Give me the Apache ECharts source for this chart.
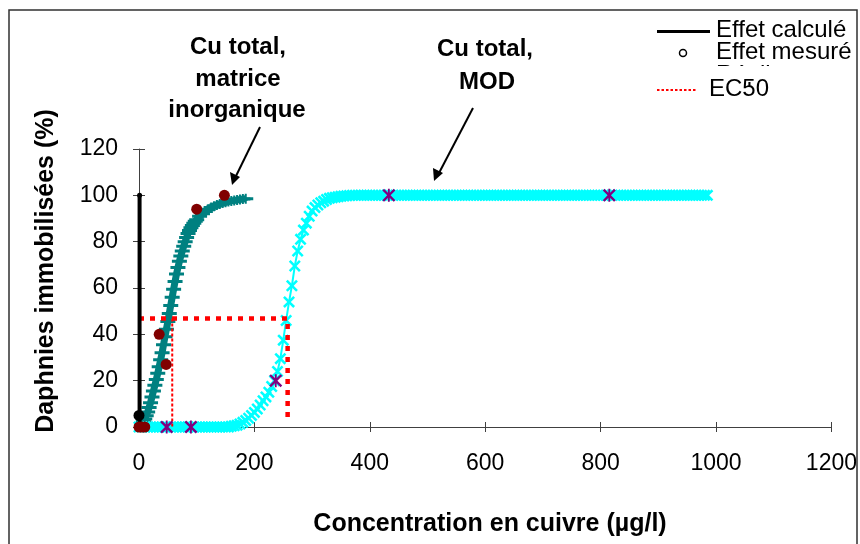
<!DOCTYPE html>
<html><head><meta charset="utf-8">
<script src="https://cdn.jsdelivr.net/npm/echarts@6/dist/echarts.min.js"></script>
<style>html,body{margin:0;padding:0;background:#fff}#c{width:860px;height:544px}</style>
</head><body><div id="c"></div>
<script>
// ---------- data ----------
const xTicks = [0, 200, 400, 600, 800, 1000, 1200];
const yTicks = [0, 20, 40, 60, 80, 100, 120];

// Effet calculé (black vertical line)
const calcX = [1, 1];
const calcY = [0, 100];

// Cu total, matrice inorganique : calculated curve (teal "+")
const tealX = [5,7.5,10,12.5,15,17.5,20,22.5,25,27.5,30,32.5,35,37.5,40,42.5,45,47.5,50,52.5,55,57.5,60,62.5,65,67.5,70,72.5,75,77.5,80,82.5,85,87.5,90,92.5,95,97.5,100,
  105,110,115,120,125,130,135,140,145,150,155,160,165,170,175,180,185];
const tealY = [1.5,2.4,3.5,4.9,6.5,8.4,10.5,13,15.5,18,20.5,23.2,26,29,32,35.5,39,42.2,45.5,49,52.5,56,59.5,62.8,66,68.8,71.5,73.8,76,78,80,81.8,83.5,84.8,86,87,88,88.8,89.5,
  91,92,93,94,94.7,95.3,95.8,96.3,96.7,97,97.3,97.6,97.8,98,98.2,98.4,98.5];

// Cu total, MOD : calculated curve (cyan "x")
const cyanX = [0,5,10,15,20,25,30,35,40,45,50,55,60,65,70,75,80,85,90,95,100,105,110,115,120,125,130,135,140,145,150,155,
  160,165,170,175,180,185,190,195,200,205,210,215,220,225,230,235,240,245,250,255,260,265,270,275,280,285,290,295,300,305,310,315,320,325,330,335,340,345,350,355,360,365,
  370,375,380,385,390,395,400,405,410,415,420,425,430,435,440,445,450,455,460,465,470,475,480,485,490,495,
  500,505,510,515,520,525,530,535,540,545,550,555,560,565,570,575,580,585,590,595,
  600,605,610,615,620,625,630,635,640,645,650,655,660,665,670,675,680,685,690,695,
  700,705,710,715,720,725,730,735,740,745,750,755,760,765,770,775,780,785,790,795,
  800,805,810,815,820,825,830,835,840,845,850,855,860,865,870,875,880,885,890,895,
  900,905,910,915,920,925,930,935,940,945,950,955,960,965,970,975,980,985];
const cyanY = [0,0,0,0,0,0,0,0,0,0,0,0,0,0,0,0,0,0,0,0,0,0,0,0,0,0,0,0,0,0,0,0,
  0.3,0.5,0.8,1.3,2,2.8,3.8,5,6.3,7.8,9.5,11.3,13,15,17.5,20,24,29.5,37.5,46,54,61,69.5,76,81,85,88,91,93.2,94.7,95.8,96.8,97.5,98.2,98.7,99,99.2,99.4,99.6,99.7,99.8,99.9,
  100,100,100,100,100,100,100,100,100,100,100,100,100,100,100,100,100,100,100,100,100,100,100,100,100,100,
  100,100,100,100,100,100,100,100,100,100,100,100,100,100,100,100,100,100,100,100,
  100,100,100,100,100,100,100,100,100,100,100,100,100,100,100,100,100,100,100,100,
  100,100,100,100,100,100,100,100,100,100,100,100,100,100,100,100,100,100,100,100,
  100,100,100,100,100,100,100,100,100,100,100,100,100,100,100,100,100,100,100,100,
  100,100,100,100,100,100,100,100,100,100,100,100,100,100,100,100,100,100];

// Effet mesuré, matrice inorganique (dark red circles)
const measInorgX = [0, 5, 10, 35, 47, 100, 148];
const measInorgY = [0, 0, 0, 40, 27, 94, 100];

// Effet mesuré, black point
const measBlackX = [0];
const measBlackY = [5];

// Réplicats MOD (purple asterisks)
const repX = [48, 90, 237, 433, 815];
const repY = [0, 0, 20, 100, 100];

// EC50
const ec50Level = 46.8;
const ec50Inorg = 57.6;
const ec50Mod = 257.6;
const ec50ModBottom = 2;

// ---------- chart ----------
const zip = (a, b) => a.map((v, i) => [v, b[i]]);
const FONT = "'Liberation Sans', Arial, sans-serif";

const plusPath = 'path://M0,3.5H15V6.5H0Z M6.5,0H8.5V10H6.5Z';
const xPath = 'path://M0,1.5L1.5,0L5,3.5L8.5,0L10,1.5L6.5,5L10,8.5L8.5,10L5,6.5L1.5,10L0,8.5L3.5,5Z';
const astPath = 'path://M0,1.3L1.3,0L5,3.7L8.7,0L10,1.3L6.3,5L10,8.7L8.7,10L5,6.3L1.3,10L0,8.7L3.7,5Z M4.3,0H5.7V10H4.3Z';

const chart = echarts.init(document.getElementById('c'), null, {renderer: 'canvas'});

const axisCommon = {type: 'value', splitLine: {show: false}};
const fmt = v => String(v);

const option = {
  animation: false,
  backgroundColor: '#fff',
  textStyle: {fontFamily: FONT},
  grid: {left: 139, top: 149, right: 27, bottom: 117, containLabel: false},
  xAxis: [
    Object.assign({}, axisCommon, {
      min: xTicks[0], max: xTicks[xTicks.length - 1], interval: xTicks[1] - xTicks[0],
      position: 'bottom',
      axisLine: {show: true, onZero: false, lineStyle: {color: '#404040', width: 1}},
      axisTick: {show: true, length: 5, lineStyle: {color: '#404040', width: 1}},
      axisLabel: {margin: 25, fontSize: 23, color: '#000', fontFamily: FONT, formatter: fmt}
    }),
    Object.assign({}, axisCommon, {
      min: xTicks[0], max: xTicks[xTicks.length - 1], interval: xTicks[1] - xTicks[0],
      position: 'bottom', offset: 0,
      axisLine: {show: false, onZero: false},
      axisTick: {show: true, inside: true, length: 5, lineStyle: {color: '#404040', width: 1}},
      axisLabel: {show: false}
    })
  ],
  yAxis: [
    Object.assign({}, axisCommon, {
      min: yTicks[0], max: yTicks[yTicks.length - 1], interval: yTicks[1] - yTicks[0],
      position: 'left',
      axisLine: {show: true, onZero: false, lineStyle: {color: '#404040', width: 1}},
      axisTick: {show: true, length: 6, lineStyle: {color: '#404040', width: 1}},
      axisLabel: {margin: 21, fontSize: 23, color: '#000', fontFamily: FONT, formatter: fmt}
    }),
    Object.assign({}, axisCommon, {
      min: yTicks[0], max: yTicks[yTicks.length - 1], interval: yTicks[1] - yTicks[0],
      position: 'left', offset: 0,
      axisLine: {show: false, onZero: false},
      axisTick: {show: true, inside: true, length: 6, lineStyle: {color: '#404040', width: 1}},
      axisLabel: {show: false}
    })
  ],
  series: [
    {
      name: 'inorg', type: 'line', data: zip(tealX, tealY), clip: false,
      symbol: plusPath, symbolSize: [15, 10], showAllSymbol: true,
      lineStyle: {color: '#008080', width: 7},
      itemStyle: {color: '#008080'}, z: 2
    },
    {
      name: 'mod', type: 'line', data: zip(cyanX, cyanY), clip: false,
      symbol: xPath, symbolSize: 12, showAllSymbol: true,
      lineStyle: {color: '#00FFFF', width: 2},
      itemStyle: {color: '#00FFFF'}, z: 3
    },
    {
      name: 'ec50a', type: 'line', clip: false, symbol: 'none',
      data: [[0, ec50Level], [ec50Mod, ec50Level], [ec50Mod, ec50ModBottom]],
      lineStyle: {color: '#FF0000', width: 4.5, type: [5, 6]}, z: 4
    },
    {
      name: 'ec50b', type: 'line', clip: false, symbol: 'none',
      data: [[ec50Inorg, ec50Level], [ec50Inorg, 0]],
      lineStyle: {color: '#FF0000', width: 2, type: [3, 2]}, z: 4
    },
    {
      name: 'calc', type: 'line', clip: false, data: zip(calcX, calcY),
      symbol: 'circle', symbolSize: 5,
      lineStyle: {color: '#000', width: 4}, itemStyle: {color: '#000'}, z: 5
    },
    {
      name: 'measBlack', type: 'scatter', clip: false, data: zip(measBlackX, measBlackY),
      symbol: 'circle', symbolSize: 11, itemStyle: {color: '#000', opacity: 1}, z: 6
    },
    {
      name: 'measInorg', type: 'scatter', clip: false, data: zip(measInorgX, measInorgY),
      symbol: 'circle', symbolSize: 11, itemStyle: {color: '#800000', opacity: 1}, z: 7
    },
    {
      name: 'rep', type: 'scatter', clip: false, data: zip(repX, repY),
      symbol: astPath, symbolSize: 13, itemStyle: {color: '#800080', opacity: 1}, z: 8
    }
  ],
  graphic: [
    // outer frame
    {type: 'rect', shape: {x: 9, y: 10, width: 848, height: 560}, style: {fill: 'none', stroke: '#303030', lineWidth: 1.5}, z: 100},
    // axis titles
    {type: 'text', x: 46, y: 271, rotation: Math.PI / 2, style: {x: 0, y: 0, text: 'Daphnies immobilisées (%)', font: "bold 25px 'Liberation Sans', Arial", fill: '#000', textAlign: 'center', textVerticalAlign: 'middle'}},
    {type: 'text', style: {x: 490, y: 524, text: 'Concentration en cuivre (µg/l)', font: "bold 25px 'Liberation Sans', Arial", fill: '#000', textAlign: 'center', textVerticalAlign: 'middle'}},
    // annotations
    {type: 'text', style: {x: 238, y: 47, text: 'Cu total,', font: "bold 24px 'Liberation Sans', Arial", fill: '#000', textAlign: 'center', textVerticalAlign: 'middle'}},
    {type: 'text', style: {x: 238, y: 79, text: 'matrice', font: "bold 24px 'Liberation Sans', Arial", fill: '#000', textAlign: 'center', textVerticalAlign: 'middle'}},
    {type: 'text', style: {x: 237, y: 110, text: 'inorganique', font: "bold 24px 'Liberation Sans', Arial", fill: '#000', textAlign: 'center', textVerticalAlign: 'middle'}},
    {type: 'text', style: {x: 485, y: 49, text: 'Cu total,', font: "bold 24px 'Liberation Sans', Arial", fill: '#000', textAlign: 'center', textVerticalAlign: 'middle'}},
    {type: 'text', style: {x: 487, y: 82, text: 'MOD', font: "bold 24px 'Liberation Sans', Arial", fill: '#000', textAlign: 'center', textVerticalAlign: 'middle'}},
    // arrows
    {type: 'line', shape: {x1: 260, y1: 127, x2: 236, y2: 176}, style: {stroke: '#000', lineWidth: 2}},
    {type: 'polygon', shape: {points: [[232, 185], [230, 172], [240, 177]]}, style: {fill: '#000'}},
    {type: 'line', shape: {x1: 473, y1: 108, x2: 439, y2: 173}, style: {stroke: '#000', lineWidth: 2}},
    {type: 'polygon', shape: {points: [[434, 181], [433, 168], [443, 173]]}, style: {fill: '#000'}},
    // legend
    {type: 'line', shape: {x1: 657, y1: 31.5, x2: 710, y2: 31.5}, style: {stroke: '#000', lineWidth: 3}, z: 50},
    {type: 'text', style: {x: 716, y: 30, text: 'Effet calculé', font: "24px 'Liberation Sans', Arial", fill: '#000', textVerticalAlign: 'middle'}, z: 50},
    {type: 'circle', shape: {cx: 683, cy: 53, r: 3.5}, style: {fill: '#fff', stroke: '#000', lineWidth: 1.5}, z: 50},
    {type: 'text', style: {x: 716, y: 52, text: 'Effet mesuré', font: "24px 'Liberation Sans', Arial", fill: '#000', textVerticalAlign: 'middle'}, z: 50},
    {type: 'text', style: {x: 716, y: 75, text: 'Réplicats', font: "24px 'Liberation Sans', Arial", fill: '#000', textVerticalAlign: 'middle'}, z: 50},
    {type: 'rect', shape: {x: 640, y: 66, width: 216, height: 16}, style: {fill: '#fff'}, z: 60},
    {type: 'line', shape: {x1: 657, y1: 90, x2: 697, y2: 90}, style: {stroke: '#FF0000', lineWidth: 2, lineDash: [2.5, 2]}, z: 70},
    {type: 'text', style: {x: 709, y: 89, text: 'EC50', font: "24px 'Liberation Sans', Arial", fill: '#000', textVerticalAlign: 'middle'}, z: 70}
  ]
};
chart.setOption(option);
</script>
</body></html>
